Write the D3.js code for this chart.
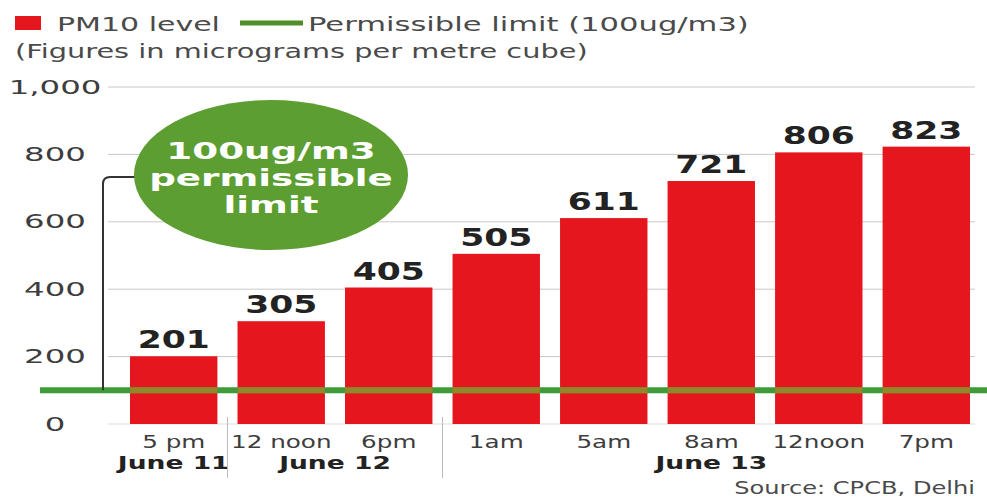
<!DOCTYPE html>
<html>
<head>
<meta charset="utf-8">
<script src="https://cdn.jsdelivr.net/npm/d3@7"></script>
<style>
  html, body { margin: 0; padding: 0; background: #fff; }
  svg { display: block; font-family: "DejaVu Sans", Verdana, sans-serif; }
</style>
</head>
<body>
<svg id="chart" width="987" height="499"></svg>
<script>
// ---- data ----
const categories = ["5 pm", "12 noon", "6pm", "1am", "5am", "8am", "12noon", "7pm"];
const dates = ["June 11", "June 12", "June 12", "June 13", "June 13", "June 13", "June 13", "June 13"];
const pm10 = [201, 305, 405, 505, 611, 721, 806, 823];
const limit = 100;
const yTicks = [0, 200, 400, 600, 800, 1000];
const yTickLabels = ["0", "200", "400", "600", "800", "1,000"];
const dateGroups = ["June 11", "June 12", "June 13"];
const legendLabels = ["PM10 level", "Permissible limit (100ug/m3)"];
const subtitle = "(Figures in micrograms per metre cube)";
const badgeLines = ["100ug/m3", "permissible", "limit"];
const source = "Source: CPCB, Delhi";

// ---- setup ----
const svg = d3.select("#chart");
const W = 987, H = 499;
const RED = "#e5161d", GREEN = "#3f9b3a", OLIVE = "#95862c", BADGE = "#5c9e31";

const x = d3.scaleBand().domain(categories).range([130, 970]).paddingInner(0.187).paddingOuter(0);
const y = d3.scaleLinear().domain([0, 1000]).range([424, 87]);

function txt(g, px, py, s, o) {
  return g.append("text")
    .attr("transform", `translate(${px},${py}) scale(${o.sx || 1.5},1)`)
    .attr("text-anchor", o.anchor || "start")
    .attr("dominant-baseline", o.baseline || "auto")
    .attr("font-size", o.size || 20)
    .attr("font-weight", o.weight || "normal")
    .attr("fill", o.fill || "#444")
    .text(s);
}

// ---- legend & subtitle ----
const lg = svg.append("g");
lg.append("rect").attr("x", 15).attr("y", 16).attr("width", 26).attr("height", 14).attr("fill", RED);
txt(lg, 57, 31, legendLabels[0], {size: 20, sx: 1.5, fill: "#4a4a4a"});
lg.append("line").attr("x1", 240).attr("x2", 303).attr("y1", 23).attr("y2", 23)
  .attr("stroke", "#4f8f2a").attr("stroke-width", 5);
txt(lg, 308, 31, legendLabels[1], {size: 20, sx: 1.53, fill: "#4a4a4a"});
txt(lg, 15, 58, subtitle, {size: 20, sx: 1.44, fill: "#4a4a4a"});

// ---- grid & y axis ----
const grid = svg.append("g");
yTicks.forEach((t, i) => {
  grid.append("line").attr("x1", 108).attr("x2", 975).attr("y1", y(t)).attr("y2", y(t))
    .attr("stroke", t === 0 ? "#ddd" : "#c8c8c8").attr("stroke-width", 1);
  txt(grid, 55, y(t) + 1, yTickLabels[i], {size: 20, sx: 1.62, anchor: "middle", baseline: "middle", fill: "#3d3d3d"});
});

// ---- bars ----
const bars = svg.append("g");
bars.selectAll("rect").data(pm10).join("rect")
  .attr("x", (d, i) => x(categories[i]))
  .attr("width", x.bandwidth())
  .attr("y", d => y(d))
  .attr("height", d => y(0) - y(d))
  .attr("fill", RED);

// ---- limit line ----
svg.append("line").attr("x1", 40).attr("x2", W).attr("y1", y(limit)).attr("y2", y(limit))
  .attr("stroke", GREEN).attr("stroke-width", 6);
svg.append("g").selectAll("rect").data(pm10).join("rect")
  .attr("x", (d, i) => x(categories[i]))
  .attr("width", x.bandwidth())
  .attr("y", y(limit) - 3)
  .attr("height", 6)
  .attr("fill", OLIVE);

// ---- value labels ----
const vl = svg.append("g");
pm10.forEach((d, i) => {
  txt(vl, x(categories[i]) + x.bandwidth() / 2, y(d) - 8, String(d),
    {size: 24, sx: 1.44, weight: "bold", anchor: "middle", fill: "#222"});
});

// ---- badge ----
const bx = 271, by = 175;
svg.append("path")
  .attr("d", `M103,${y(limit)} L103,${by + 9} Q103,${by + 2} 110,${by + 2} L${bx - 130},${by + 2}`)
  .attr("fill", "none").attr("stroke", "#333").attr("stroke-width", 2);
svg.append("ellipse").attr("cx", bx).attr("cy", by).attr("rx", 137).attr("ry", 75).attr("fill", BADGE);
badgeLines.forEach((s, i) => {
  txt(svg, bx, by - 22 + i * 27, s, {size: 23, sx: 1.62, weight: "bold", anchor: "middle", baseline: "middle", fill: "#fff"});
});

// ---- x labels ----
const xl = svg.append("g");
categories.forEach((c, i) => {
  txt(xl, x(c) + x.bandwidth() / 2, 448, c, {size: 17, sx: 1.45, anchor: "middle", fill: "#3d3d3d"});
});
dateGroups.forEach(g => {
  const idx = dates.map((d, i) => d === g ? i : -1).filter(i => i >= 0);
  const first = x(categories[idx[0]]), last = x(categories[idx[idx.length - 1]]) + x.bandwidth();
  txt(xl, (first + last) / 2, 469, g, {size: 17, sx: 1.56, weight: "bold", anchor: "middle", fill: "#222"});
  const nextIdx = idx[idx.length - 1] + 1;
  if (nextIdx < categories.length) {
    const sep = (last + x(categories[nextIdx])) / 2;
    xl.append("line").attr("x1", sep).attr("x2", sep).attr("y1", 417).attr("y2", 478)
      .attr("stroke", "#bbb").attr("stroke-width", 1);
  }
});

// ---- source ----
txt(svg, 975, 494, source, {size: 17, sx: 1.42, anchor: "end", fill: "#4a4a4a"});
</script>
</body>
</html>
